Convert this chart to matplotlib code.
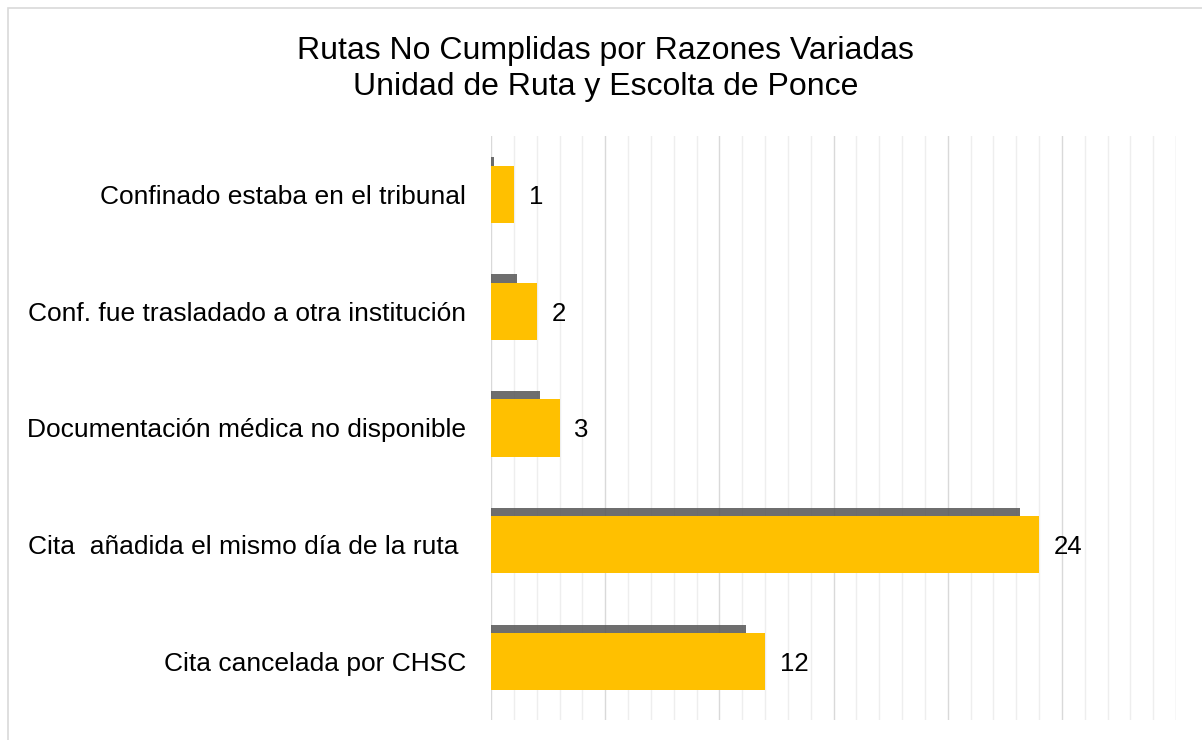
import matplotlib.pyplot as plt
import matplotlib.patheffects as pe
from matplotlib.patches import Rectangle
from matplotlib.ticker import MultipleLocator

plt.rcParams['font.family'] = ['Liberation Sans', 'DejaVu Sans']

categories = [
    "Confinado estaba en el tribunal",
    "Conf. fue trasladado a otra institución",
    "Documentación médica no disponible",
    "Cita  añadida el mismo día de la ruta ",
    "Cita cancelada por CHSC",
]
values = [1, 2, 3, 24, 12]
title = "Rutas No Cumplidas por Razones Variadas\nUnidad de Ruta y Escolta de Ponce"


def main():
    fig = plt.figure(figsize=(12.02, 7.40), dpi=100)
    # light frame around the chart area
    fig.patches.append(Rectangle((8 / 1202, -0.01), 1.02, 1 - 8 / 740 + 0.01,
                                 transform=fig.transFigure, fill=False,
                                 edgecolor='#D9D9D9', linewidth=1.2))

    ax = fig.add_axes([491 / 1202, 1 - 720 / 740, 685 / 1202, 584 / 740])
    y = list(range(len(categories)))

    bars = ax.barh(y, values, height=0.49, color='#FFC000', zorder=3)
    for b in bars:
        b.set_path_effects([pe.SimplePatchShadow(offset=(-14, 6), shadow_rgbFace='#555555', alpha=0.85),
                            pe.Normal()])

    for yi, v in zip(y, values):
        ax.text(v + 0.65, yi + 0.02, str(v), va='center', ha='left', fontsize=18.5, color='black')

    ax.set_xlim(0, 30)
    ax.set_ylim(len(categories) - 0.5, -0.5)
    ax.xaxis.set_major_locator(MultipleLocator(5))
    ax.xaxis.set_minor_locator(MultipleLocator(1))
    ax.grid(which='minor', axis='x', color='#EEEEEE', linewidth=1, zorder=0)
    ax.grid(which='major', axis='x', color='#D9D9D9', linewidth=1, zorder=0)
    ax.set_axisbelow(True)

    ax.set_yticks(y)
    ax.set_yticklabels(categories, fontsize=19)
    ax.tick_params(axis='y', length=0, pad=18)
    ax.tick_params(axis='x', which='both', length=0, labelbottom=False)
    for s in ax.spines.values():
        s.set_visible(False)

    fig.text(605.5 / 1202, 1 - 69 / 740, title, ha='center', va='center',
             fontsize=23, linespacing=1.25)

    fig.savefig('out.png', dpi=100)


if __name__ == "__main__":
    main()
